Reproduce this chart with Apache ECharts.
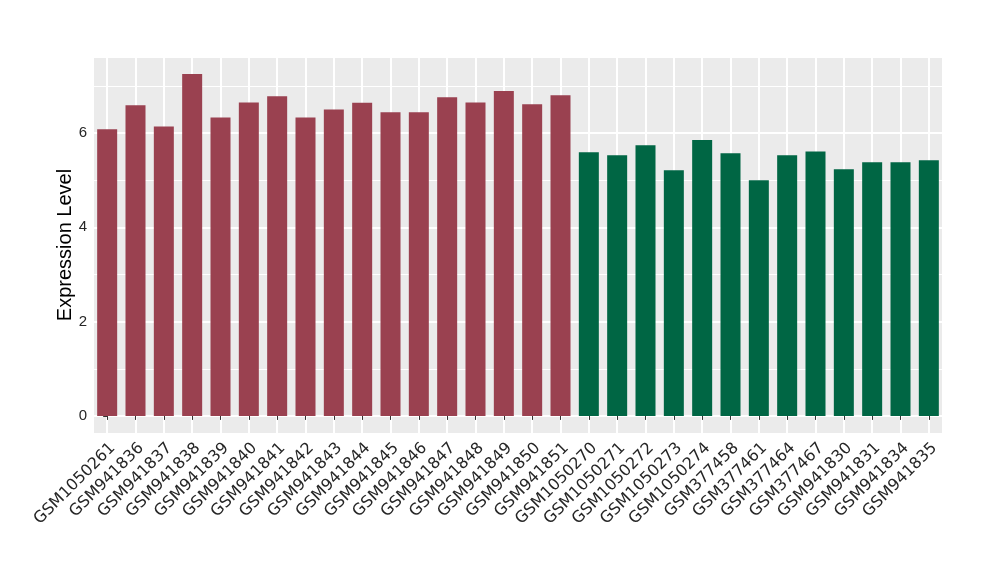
<!DOCTYPE html>
<html>
<head>
<meta charset="utf-8">
<script src="https://cdn.jsdelivr.net/npm/echarts@6/dist/echarts.min.js"></script>
<style>html,body{margin:0;padding:0;background:#fff;}#c{width:1000px;height:580px;}</style>
</head>
<body>
<div id="c"></div>
<script>
const groupACategories = ['GSM1050261','GSM941836','GSM941837','GSM941838','GSM941839','GSM941840','GSM941841','GSM941842','GSM941843','GSM941844','GSM941845','GSM941846','GSM941847','GSM941848','GSM941849','GSM941850','GSM941851'];
const groupAValues = [6.08,6.59,6.14,7.25,6.33,6.65,6.78,6.33,6.50,6.64,6.44,6.44,6.76,6.65,6.89,6.61,6.80];
const groupBCategories = ['GSM1050270','GSM1050271','GSM1050272','GSM1050273','GSM1050274','GSM377458','GSM377461','GSM377464','GSM377467','GSM941830','GSM941831','GSM941834','GSM941835'];
const groupBValues = [5.59,5.53,5.74,5.21,5.85,5.57,5.00,5.53,5.61,5.23,5.38,5.38,5.42];
const yTickValues = [0,2,4,6];
const yMinorValues = [1,3,5,7];

const colorA = '#9A4150';
const colorB = '#006644';
const categories = groupACategories.concat(groupBCategories);
const data = groupAValues.map(v => ({value: v, itemStyle: {color: colorA}}))
  .concat(groupBValues.map(v => ({value: v, itemStyle: {color: colorB}})));

const allVals = groupAValues.concat(groupBValues);
const dmax = Math.max.apply(null, allVals);
const pad = dmax * 0.05;
const yMin = -pad, yMax = dmax + pad;
const n = categories.length;

const chart = echarts.init(document.getElementById('c'), null, {renderer: 'canvas'});
chart.setOption({
  animation: false,
  backgroundColor: '#fff',
  grid: {left: 93, right: 57, top: 57, bottom: 147, show: true, backgroundColor: '#EBEBEB', borderWidth: 0, containLabel: false},
  xAxis: [{
    type: 'category', data: categories, boundaryGap: true,
    axisLine: {show: false},
    axisTick: {show: true, alignWithLabel: true, length: 4, lineStyle: {color: '#333', width: 1}},
    splitLine: {show: false},
    axisLabel: {rotate: 45, margin: 7, verticalAlign: 'top', fontFamily: 'DejaVu Sans', fontSize: 16, color: '#262626', interval: 0}
  }, {
    type: 'value', min: -0.5, max: n - 0.5, splitNumber: n, show: true,
    position: 'top',
    axisLine: {show: false}, axisTick: {show: false}, axisLabel: {show: false},
    splitLine: {show: true, lineStyle: {color: '#fff', width: 2}}
  }],
  yAxis: [{
    type: 'value', min: yMin, max: yMax, splitNumber: 4,
    name: 'Expression Level', nameLocation: 'middle', nameGap: 18, nameRotate: 90, nameMoveOverlap: false,
    nameTextStyle: {fontFamily: 'Liberation Sans', fontSize: 20, color: '#000'},
    axisLine: {show: false},
    axisTick: {show: true, length: 4, customValues: yTickValues, lineStyle: {color: '#333', width: 1}},
    axisLabel: {customValues: yTickValues, margin: 6, fontFamily: 'Liberation Sans', fontSize: 15, color: '#262626'},
    splitLine: {show: true, lineStyle: {color: '#fff', width: 2}}
  }, {
    type: 'value', min: (yMin - yMinorValues[0]) / 2, max: (yMax - yMinorValues[0]) / 2, splitNumber: 4,
    position: 'right',
    axisLine: {show: false}, axisTick: {show: false}, axisLabel: {show: false},
    splitLine: {show: true, lineStyle: {color: '#fff', width: 1}}
  }],
  series: [{
    type: 'bar', xAxisIndex: 0, yAxisIndex: 0, data: data, barWidth: 20, z: 5
  }]
});
</script>
</body>
</html>
